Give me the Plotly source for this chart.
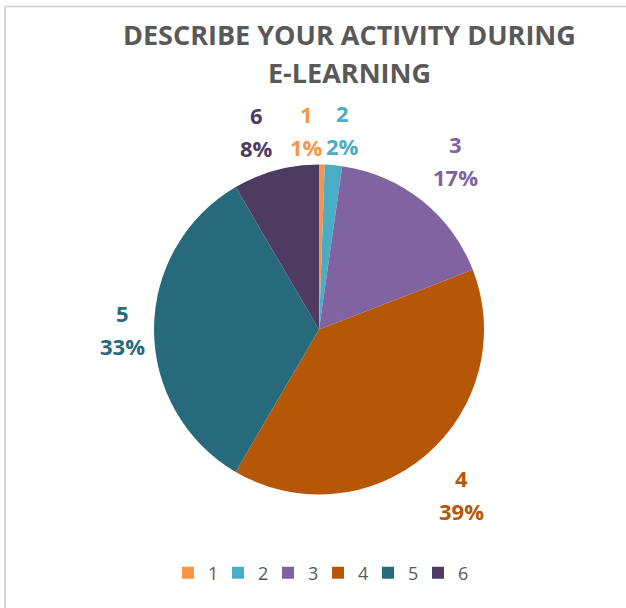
import math
import plotly.graph_objects as go

categories = ["1", "2", "3", "4", "5", "6"]
values = [1, 3, 30, 70, 59, 15]
colors = ["#F79646", "#4BACC6", "#8064A2", "#B65708", "#276A7C", "#4D3B62"]
title_lines = ["DESCRIBE YOUR ACTIVITY DURING", "E-LEARNING"]

W, H = 626, 608
# pie geometry in pixels
CX, CY, R = 319, 329.5, 165
FONT = "Open Sans"

fig = go.Figure()
fig.add_trace(go.Pie(
    labels=categories,
    values=values,
    sort=False,
    direction="clockwise",
    rotation=0,
    marker=dict(colors=colors, line=dict(width=0)),
    textinfo="none",
    domain=dict(x=[(CX - R) / W, (CX + R) / W], y=[(H - CY - R) / H, (H - CY + R) / H]),
    hoverinfo="label+percent",
))

def px(x):
    return x / W

def py(y):
    return 1 - y / H

annotations = []
# data labels, placed from the slice mid-angles
total = sum(values)
cum = 0.0
fs = 22
line_gap = 33
half_digit = 8
for cat, v, col in zip(categories, values, colors):
    frac_mid = (cum + v / 2) / total
    cum += v
    theta = 2 * math.pi * frac_mid
    s, c = math.sin(theta), math.cos(theta)
    r = R + 9 + 11 * abs(math.sin(2 * theta))
    Px, Py = CX + r * s, CY - r * c
    pct = f"{round(100 * v / total)}%"
    w = 0.572 * fs * (len(pct) - 1) + 0.87 * fs
    if s > 0.05:
        bx = Px + w / 2 - (8 if s < 0.2 else 0)
    else:
        bx = Px - w / 2
    if c > 0.3:
        y2 = Py - half_digit
        y1 = y2 - line_gap
    elif c < -0.3:
        y1 = Py + half_digit
        y2 = y1 + line_gap
    else:
        y1 = Py - line_gap / 2
        y2 = Py + line_gap / 2
    for txt, yy in ((cat, y1), (pct, y2)):
        annotations.append(dict(
            text=f"<b>{txt}</b>", x=px(bx), y=py(yy), xref="paper", yref="paper",
            xanchor="center", yanchor="middle", showarrow=False,
            font=dict(family=FONT, size=fs, color=col)))

# title (two lines)
for line, yy in zip(title_lines, (35, 73)):
    annotations.append(dict(
        text=f"<b>{line}</b>", x=px(349), y=py(yy), xref="paper", yref="paper",
        xanchor="center", yanchor="middle", showarrow=False,
        font=dict(family=FONT, size=27, color="#595959")))

fig.update_layout(
    width=W, height=H,
    margin=dict(l=0, r=0, t=0, b=0),
    paper_bgcolor="white",
    showlegend=True,
    legend=dict(orientation="h", x=px(318), xanchor="center", y=py(573), yanchor="middle",
                font=dict(family=FONT, size=18, color="#595959"),
                itemwidth=30, traceorder="normal",
                entrywidth=5, entrywidthmode="pixels"),
    annotations=annotations,
    shapes=[
        dict(type="line", xref="paper", yref="paper", x0=px(5), x1=1.0, y0=py(6.5), y1=py(6.5),
             line=dict(color="#D9D9D9", width=2)),
        dict(type="line", xref="paper", yref="paper", x0=px(5), x1=px(5), y0=0, y1=py(6.5),
             line=dict(color="#D9D9D9", width=2)),
    ],
)

fig.write_html("out.html", config={"displayModeBar": False},
               post_script="document.body.style.margin='0';document.body.style.overflow='hidden';")
